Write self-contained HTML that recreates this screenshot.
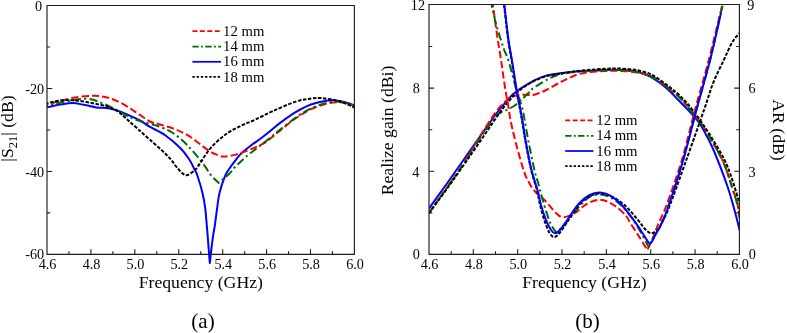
<!DOCTYPE html>
<html lang="en">
<head>
<meta charset="utf-8">
<title>S21, realized gain and AR versus frequency</title>
<style>
html,body{margin:0;padding:0;background:#fff;}
body{width:787px;height:333px;overflow:hidden;font-family:"Liberation Serif","Times New Roman",Times,serif;}
svg{display:block;}
</style>
</head>
<body>
<svg width="787" height="333" viewBox="0 0 787 333">
<rect width="787" height="333" fill="#ffffff"/>
<defs>
<clipPath id="cl"><rect x="47.0" y="5.0" width="307.4" height="258.9"/></clipPath>
<clipPath id="cr"><rect x="429.0" y="4.0" width="310.9" height="250.8"/></clipPath>
</defs>
<g fill="none" stroke-width="2.00" stroke-linejoin="round" clip-path="url(#cl)">
<path stroke="#0000ff" stroke-dashoffset="0.0" d="M47.0 107.2C49.2 106.8 55.8 105.3 60.0 104.6C64.2 103.9 68.5 103.0 72.5 103.0C76.5 103.0 80.0 104.1 84.0 104.8C88.0 105.5 92.4 106.8 96.4 107.4C100.4 108.0 104.5 107.7 108.2 108.3C111.9 108.9 115.3 109.9 118.4 110.9C121.5 111.9 123.4 112.9 127.0 114.5C130.6 116.1 136.2 118.4 140.0 120.5C143.8 122.6 145.8 124.5 150.0 126.9C154.2 129.3 160.1 131.6 165.2 135.2C170.3 138.8 176.4 144.1 180.5 148.2C184.6 152.3 187.3 156.6 189.6 160.0C191.9 163.4 192.9 166.3 194.2 168.8C195.5 171.3 195.9 171.1 197.3 175.2C198.7 179.3 201.3 187.9 202.6 193.5C203.9 199.1 204.5 201.9 205.3 208.8C206.1 215.7 206.8 226.0 207.6 235.0C208.3 244.0 209.4 258.3 209.8 263.0C210.1 260.7 210.8 253.7 211.4 249.0C212.0 244.3 212.6 239.0 213.2 235.0C213.8 231.0 214.3 229.2 214.9 225.0C215.5 220.8 216.2 215.2 216.9 210.0C217.7 204.8 218.1 199.0 219.4 193.5C220.7 188.0 223.0 180.9 224.7 176.8C226.3 172.7 227.5 171.5 229.3 168.8C231.1 166.1 233.5 162.9 235.4 160.4C237.3 157.9 238.4 156.1 241.0 153.6C243.6 151.1 247.8 147.9 251.2 145.3C254.6 142.7 258.3 140.3 261.4 138.0C264.5 135.7 266.8 133.9 270.0 131.3C273.2 128.7 276.2 125.8 280.5 122.6C284.8 119.4 290.6 115.1 295.7 112.1C300.8 109.1 305.9 106.4 311.0 104.5C316.1 102.6 322.1 101.4 326.2 100.7C330.3 100.0 332.3 100.2 335.4 100.4C338.4 100.6 341.3 101.2 344.5 102.0C347.7 102.8 352.9 104.9 354.6 105.5"/>
<path stroke="#ff0000" stroke-dasharray="7.2 3.1" stroke-dashoffset="5.7" d="M47.0 104.4C49.2 103.8 55.3 102.2 60.0 101.0C64.7 99.8 69.4 98.4 75.0 97.5C80.6 96.6 88.4 95.8 93.4 95.7C98.4 95.6 101.2 96.2 105.0 97.0C108.8 97.8 112.2 98.9 116.0 100.6C119.8 102.3 124.2 104.7 128.0 107.0C131.8 109.3 135.3 111.9 139.0 114.3C142.7 116.7 146.7 119.8 150.0 121.5C153.3 123.2 155.2 123.0 159.0 124.2C162.8 125.4 169.1 127.1 172.9 128.4C176.7 129.8 179.2 130.9 182.0 132.3C184.8 133.7 187.0 134.6 190.0 136.6C193.0 138.6 196.8 141.8 200.2 144.3C203.6 146.8 207.3 149.8 210.4 151.7C213.5 153.6 216.6 154.8 219.0 155.6C221.4 156.4 221.9 156.7 224.7 156.5C227.5 156.3 232.3 155.5 235.9 154.6C239.5 153.7 242.7 152.3 246.1 151.0C249.5 149.7 252.9 148.5 256.3 146.9C259.7 145.3 263.0 144.0 266.5 141.7C270.0 139.3 272.5 136.7 277.4 132.8C282.3 128.9 290.1 122.2 295.7 118.3C301.3 114.4 305.9 111.6 311.0 109.2C316.1 106.8 321.6 104.9 326.2 103.7C330.8 102.5 334.8 102.2 338.4 102.2C342.0 102.2 344.9 103.0 347.6 103.6C350.3 104.2 353.4 105.6 354.6 106.0"/>
<path stroke="#006a00" stroke-dasharray="8.2 3.2 2.2 3.2" stroke-dashoffset="7.2" d="M47.0 105.6C50.9 104.8 63.5 101.7 70.5 100.6C77.5 99.5 82.5 98.1 88.8 99.0C95.1 99.9 101.5 102.8 108.6 106.0C115.7 109.2 124.6 115.0 131.5 118.0C138.4 121.0 145.8 122.5 150.0 123.8C154.2 125.1 153.2 124.2 157.0 125.7C160.8 127.2 167.7 129.6 172.9 133.0C178.1 136.4 183.0 140.8 188.1 146.0C193.2 151.2 199.6 159.3 203.4 164.2C207.2 169.1 208.5 172.1 211.0 175.2C213.5 178.3 217.3 181.6 218.6 182.9C220.4 181.4 226.5 176.4 229.3 173.7C232.1 171.0 233.4 168.6 235.4 166.5C237.4 164.4 239.2 163.0 241.5 161.0C243.8 159.0 244.2 158.1 249.0 154.3C253.8 150.5 265.3 141.8 270.0 138.0C274.7 134.2 273.1 135.1 277.4 131.7C281.7 128.3 290.1 121.5 295.7 117.6C301.3 113.7 305.9 110.9 311.0 108.5C316.1 106.1 321.6 104.2 326.2 103.0C330.8 101.8 334.8 101.6 338.4 101.6C342.0 101.6 344.9 102.4 347.6 103.1C350.3 103.8 353.4 105.3 354.6 105.8"/>
<path stroke="#000000" stroke-dasharray="3.55 1.55" stroke-dashoffset="1.9" d="M47.0 103.2C49.5 102.7 57.2 100.6 62.3 100.2C67.4 99.8 72.5 100.2 77.6 100.7C82.7 101.2 87.8 102.3 92.9 103.3C98.0 104.3 104.0 105.4 108.2 106.8C112.5 108.2 115.3 109.8 118.4 111.9C121.5 114.0 123.8 116.5 127.0 119.3C130.2 122.1 133.8 125.4 137.6 128.8C141.4 132.2 145.4 135.7 150.0 139.8C154.6 143.9 161.6 150.1 165.2 153.5C168.8 156.9 169.3 157.6 171.3 160.0C173.3 162.4 175.0 165.5 177.4 168.0C179.8 170.5 183.0 174.8 185.8 175.2C188.6 175.6 192.3 172.0 194.2 170.7C196.1 169.4 196.2 168.8 197.3 167.3C198.4 165.8 198.7 165.1 201.0 161.8C203.3 158.5 206.8 152.2 211.0 147.6C215.2 143.0 221.1 137.7 226.2 134.0C231.3 130.3 236.7 127.9 241.5 125.5C246.3 123.1 250.0 122.1 255.2 119.7C260.4 117.3 266.1 114.1 272.9 111.1C279.6 108.1 289.3 103.7 295.7 101.6C302.1 99.5 306.7 99.2 311.0 98.6C315.3 98.0 317.5 97.8 321.6 98.1C325.7 98.4 331.5 99.4 335.4 100.3C339.3 101.2 341.8 102.2 345.0 103.4C348.2 104.6 353.0 106.9 354.6 107.6"/>
</g>
<g fill="none" stroke-width="2.00" stroke-linejoin="round" clip-path="url(#cr)">
<path stroke="#0000ff" stroke-dashoffset="0.0" d="M428.9 208.6C431.7 204.7 440.7 192.3 445.9 185.0C451.1 177.7 455.9 170.9 460.0 165.0C464.1 159.1 466.9 155.0 470.8 149.5C474.7 144.0 479.2 137.7 483.4 131.8C487.6 125.9 492.1 119.2 496.0 114.0C499.9 108.8 503.5 104.5 506.8 100.8C510.1 97.1 511.4 95.1 515.9 91.8C520.4 88.5 529.0 83.4 534.0 80.7C539.0 78.0 541.9 76.8 546.2 75.6C550.5 74.4 554.9 74.0 560.0 73.3C565.1 72.6 571.6 71.9 576.7 71.5C581.8 71.1 585.8 71.1 590.5 70.8C595.2 70.5 600.4 70.1 605.0 69.9C609.6 69.7 613.8 69.6 618.0 69.7C622.2 69.8 626.3 70.0 630.0 70.5C633.7 71.0 636.6 71.6 640.0 72.6C643.4 73.6 646.8 74.7 650.2 76.5C653.6 78.3 657.0 80.7 660.4 83.3C663.8 85.9 667.7 89.3 670.6 92.0C673.5 94.7 674.8 96.5 677.8 99.5C680.8 102.5 685.5 107.2 688.4 110.3C691.3 113.3 692.9 115.3 695.0 117.8C697.1 120.3 697.9 120.1 701.0 125.5C704.1 130.9 709.2 140.1 713.5 150.0C717.8 159.9 723.4 174.7 727.0 185.0C730.6 195.3 732.9 204.5 735.0 212.0C737.1 219.5 738.8 227.0 739.6 230.0"/>
<path stroke="#ff0000" stroke-dasharray="7.2 3.1" stroke-dashoffset="0.0" d="M428.9 213.2C431.9 208.9 441.5 195.4 447.0 187.5C452.5 179.6 457.8 172.4 462.0 166.0C466.2 159.6 468.9 154.9 472.5 149.0C476.1 143.1 479.5 137.0 483.4 130.8C487.3 124.6 492.4 116.6 496.0 111.8C499.6 107.0 502.3 104.3 505.0 101.8C507.7 99.3 509.7 97.9 512.0 96.8C514.3 95.7 516.7 95.3 519.0 95.0C521.3 94.7 523.5 94.8 526.0 94.8C528.5 94.8 530.6 95.6 534.0 94.8C537.4 94.0 541.6 92.2 546.2 90.0C550.8 87.8 556.4 84.2 561.5 81.7C566.6 79.2 571.9 76.4 576.7 74.8C581.5 73.2 585.8 72.6 590.5 72.0C595.2 71.4 600.4 71.2 605.0 71.0C609.6 70.8 612.8 70.6 618.0 70.8C623.2 71.0 630.7 71.4 636.0 72.3C641.3 73.2 645.9 74.4 650.0 76.0C654.1 77.6 657.0 79.5 660.4 81.8C663.8 84.1 667.3 87.3 670.6 90.0C673.9 92.7 676.8 94.8 680.0 98.0C683.2 101.2 686.0 104.5 690.0 109.5C694.0 114.5 698.6 119.6 704.0 128.0C709.4 136.4 717.6 150.2 722.3 160.0C727.0 169.8 729.5 179.5 732.0 187.0C734.5 194.5 736.3 199.9 737.6 205.0C738.9 210.1 739.3 215.5 739.6 217.6"/>
<path stroke="#006a00" stroke-dasharray="8.2 3.2 2.2 3.2" stroke-dashoffset="0.0" d="M428.9 213.0C431.9 208.8 441.5 195.3 447.0 187.5C452.5 179.7 457.8 172.2 462.0 166.0C466.2 159.8 468.8 155.7 472.5 150.0C476.2 144.3 480.3 137.7 484.5 131.8C488.7 125.9 494.4 118.0 497.8 114.5C501.2 111.0 502.3 112.2 505.0 110.8C507.7 109.4 511.3 107.8 514.0 106.0C516.7 104.2 518.6 102.2 521.3 99.8C524.0 97.4 527.9 93.5 530.0 91.5C532.1 89.5 530.9 89.7 534.0 87.6C537.1 85.5 544.2 81.1 548.5 78.9C552.8 76.7 555.3 75.6 560.0 74.4C564.7 73.2 571.6 72.4 576.7 71.8C581.8 71.2 585.8 71.2 590.5 70.9C595.2 70.6 600.4 70.4 605.0 70.2C609.6 70.0 612.8 69.7 618.0 70.0C623.2 70.3 630.7 70.8 636.0 71.8C641.3 72.8 645.9 74.3 650.0 76.0C654.1 77.7 657.0 79.5 660.4 81.8C663.8 84.1 667.3 87.3 670.6 90.0C673.9 92.7 676.8 94.8 680.0 98.0C683.2 101.2 686.0 104.5 690.0 109.5C694.0 114.5 698.6 119.6 704.0 128.0C709.4 136.4 717.6 150.2 722.3 160.0C727.0 169.8 729.5 179.5 732.0 187.0C734.5 194.5 736.3 199.9 737.6 205.0C738.9 210.1 739.3 215.5 739.6 217.6"/>
<path stroke="#000000" stroke-dasharray="3.55 1.55" stroke-dashoffset="0.0" d="M428.9 213.2C432.0 209.0 441.8 195.9 447.5 188.0C453.2 180.1 458.5 172.4 463.0 166.0C467.5 159.6 470.5 155.3 474.4 149.6C478.3 143.9 482.5 137.8 486.5 132.0C490.5 126.2 494.8 119.6 498.5 114.5C502.2 109.4 505.3 105.2 508.5 101.5C511.7 97.8 513.6 95.2 517.5 92.0C521.4 88.8 527.1 84.7 532.0 82.0C536.9 79.3 542.0 77.4 547.0 76.0C552.0 74.6 557.0 74.2 562.0 73.4C567.0 72.6 572.2 71.6 577.0 71.0C581.8 70.4 585.8 70.2 590.5 69.8C595.2 69.4 600.4 69.0 605.0 68.8C609.6 68.6 613.5 68.4 618.0 68.5C622.5 68.6 628.3 69.1 632.0 69.5C635.7 69.9 637.0 70.0 640.0 70.8C643.0 71.5 646.8 72.4 650.2 74.0C653.6 75.6 657.0 78.0 660.4 80.3C663.8 82.6 667.3 85.3 670.6 87.9C673.9 90.5 676.3 92.1 680.0 95.8C683.7 99.5 687.8 103.8 692.6 110.0C697.4 116.2 703.3 124.6 708.6 132.9C713.9 141.2 720.4 151.8 724.5 160.0C728.6 168.2 730.5 174.7 733.0 182.0C735.5 189.3 738.5 200.3 739.6 204.0"/>
<path stroke="#ff0000" stroke-dasharray="7.2 3.1" stroke-dashoffset="0.0" d="M492.2 0.0C493.1 6.7 496.4 30.8 497.8 40.0C499.2 49.2 499.0 46.6 500.3 55.0C501.6 63.4 504.2 82.7 505.5 90.6C506.8 98.5 507.0 97.7 507.8 102.6C508.6 107.5 509.2 113.4 510.5 120.0C511.8 126.6 513.4 133.6 515.6 142.0C517.8 150.4 521.5 163.8 523.7 170.5C525.9 177.2 527.1 179.0 529.0 182.5C530.9 186.0 532.3 188.5 535.0 191.5C537.7 194.5 541.5 197.0 545.0 200.5C548.5 204.0 552.6 209.9 555.7 212.7C558.8 215.5 560.1 217.3 563.4 217.3C566.7 217.3 571.7 214.9 575.5 212.7C579.3 210.5 582.1 206.5 586.2 204.3C590.3 202.1 595.4 199.6 600.0 199.7C604.6 199.8 609.4 202.3 613.7 205.0C618.0 207.7 623.1 212.6 625.9 215.7C628.7 218.8 628.1 219.6 630.5 223.3C632.9 227.0 637.2 233.6 640.0 238.0C642.8 242.4 646.1 248.0 647.3 250.0C648.1 248.3 650.2 244.2 652.0 240.0C653.8 235.8 655.6 230.6 658.0 224.8C660.4 219.0 662.6 215.8 666.6 205.0C670.6 194.2 677.2 175.8 681.9 160.0C686.6 144.2 690.5 126.7 695.0 110.0C699.5 93.3 704.2 77.5 708.8 60.0C713.3 42.5 719.8 15.0 722.3 5.0C724.8 -5.0 723.4 0.8 723.6 0.0"/>
<path stroke="#006a00" stroke-dasharray="8.2 3.2 2.2 3.2" stroke-dashoffset="0.0" d="M490.0 0.0C490.2 0.8 490.5 0.7 491.5 4.5C492.5 8.3 494.2 17.0 495.8 22.9C497.4 28.8 499.5 35.5 500.9 40.0C502.3 44.5 503.0 46.7 504.2 50.0C505.4 53.3 506.8 55.3 508.3 60.0C509.8 64.7 512.0 73.3 513.3 78.0C514.6 82.7 514.5 82.9 516.0 88.0C517.5 93.1 520.9 103.3 522.3 108.6C523.7 113.9 523.6 114.8 524.6 120.0C525.6 125.2 526.6 131.7 528.2 140.0C529.8 148.3 532.8 162.9 534.4 170.0C536.0 177.1 536.8 178.1 538.1 182.7C539.4 187.3 540.3 191.6 542.0 197.4C543.7 203.2 546.3 212.2 548.1 217.3C549.9 222.4 551.6 225.5 553.0 228.0C554.4 230.5 555.9 231.7 556.5 232.4C557.6 231.4 560.9 228.6 563.0 226.4C565.1 224.2 566.3 222.7 569.0 219.4C571.7 216.1 576.0 210.1 579.4 206.4C582.8 202.7 586.2 199.0 589.6 197.0C593.0 195.0 596.5 194.3 600.0 194.4C603.5 194.5 607.1 195.7 610.6 197.5C614.1 199.3 617.2 201.3 621.3 205.5C625.4 209.7 630.4 215.6 635.0 222.5C639.6 229.4 646.5 242.9 648.8 247.0C649.7 245.3 652.0 240.7 654.0 237.0C656.0 233.3 658.7 229.7 661.0 224.8C663.3 219.9 664.3 218.3 668.0 207.5C671.7 196.7 678.5 176.2 683.2 160.0C687.9 143.8 691.9 126.7 696.4 110.0C700.9 93.3 705.7 77.5 710.1 60.0C714.5 42.5 720.4 15.0 722.7 5.0C725.0 -5.0 723.8 0.8 724.0 0.0"/>
<path stroke="#000000" stroke-dasharray="3.55 1.55" stroke-dashoffset="0.0" d="M503.5 0.0C504.3 6.7 506.8 30.0 508.2 40.0C509.6 50.0 510.2 51.4 511.6 60.0C513.0 68.6 515.3 84.0 516.6 91.5C517.9 99.0 518.3 100.2 519.2 105.0C520.1 109.8 521.0 114.2 522.0 120.0C523.0 125.8 523.7 131.7 525.2 140.0C526.7 148.3 529.2 161.7 531.2 170.0C533.2 178.3 535.5 184.2 537.0 190.0C538.5 195.8 538.8 199.8 540.1 205.0C541.4 210.2 543.0 216.3 544.6 221.0C546.2 225.7 548.0 230.3 549.6 233.0C551.2 235.7 552.6 237.0 554.2 237.0C555.9 237.0 557.3 235.6 559.5 233.0C561.7 230.4 564.2 226.2 567.5 221.5C570.8 216.8 575.3 209.2 579.0 205.0C582.7 200.8 586.0 198.1 589.5 196.2C593.0 194.3 596.5 193.5 600.0 193.5C603.5 193.5 606.5 194.1 610.6 196.0C614.7 197.9 619.8 201.0 624.4 205.0C629.0 209.0 634.7 216.2 638.1 220.2C641.5 224.2 642.9 226.8 645.0 229.0C647.1 231.2 648.8 233.1 651.0 233.2C653.2 233.3 656.0 231.6 658.0 229.4C660.0 227.2 661.2 223.7 663.0 220.0C664.8 216.3 665.1 217.5 669.0 207.5C672.9 197.5 680.5 176.2 686.3 160.0C692.1 143.8 699.5 122.8 704.0 110.0C708.5 97.2 709.9 91.2 713.2 82.9C716.5 74.6 720.8 66.4 723.8 60.0C726.8 53.6 729.0 48.3 731.0 44.5C733.0 40.7 734.5 38.9 736.0 37.0C737.5 35.1 739.2 33.7 739.8 33.0"/>
<path stroke="#0000ff" stroke-dashoffset="0.0" d="M503.8 0.0C504.6 6.7 507.1 30.0 508.5 40.0C509.9 50.0 510.5 51.4 511.9 60.0C513.3 68.6 515.6 84.0 516.9 91.5C518.2 99.0 518.6 100.2 519.5 105.0C520.4 109.8 521.3 114.2 522.3 120.0C523.3 125.8 524.0 131.7 525.5 140.0C527.0 148.3 529.5 161.7 531.5 170.0C533.5 178.3 535.9 184.2 537.5 190.0C539.1 195.8 539.6 200.0 541.0 205.0C542.4 210.0 544.3 215.8 546.0 220.0C547.7 224.2 549.5 227.8 551.0 230.0C552.5 232.2 553.5 233.2 555.0 233.2C556.5 233.2 558.0 232.2 560.0 230.0C562.0 227.8 564.1 224.3 567.2 220.0C570.3 215.7 574.9 208.1 578.6 204.0C582.3 199.9 585.7 197.1 589.3 195.2C592.9 193.3 596.5 192.5 600.0 192.6C603.5 192.7 607.1 193.9 610.6 195.9C614.1 197.9 617.2 200.2 621.3 204.5C625.4 208.8 631.1 216.5 635.0 221.8C638.9 227.1 642.3 232.9 644.5 236.2C646.7 239.5 647.0 240.6 648.0 241.8C649.0 243.0 649.4 243.8 650.2 243.6C651.0 243.4 651.8 242.0 652.6 240.6C653.4 239.2 653.8 237.6 655.2 235.0C656.6 232.4 658.9 229.4 661.0 224.8C663.1 220.2 664.3 218.3 668.0 207.5C671.7 196.7 678.5 176.2 683.2 160.0C687.9 143.8 691.9 126.7 696.4 110.0C700.9 93.3 706.4 74.3 710.1 60.0C713.8 45.7 716.7 31.9 718.5 24.0C720.3 16.1 720.6 14.7 721.0 12.8"/>
</g>
<g fill="none" stroke="#1e1e1e" stroke-width="1.15" stroke-linecap="square">
<path d="M47.0 5.5 V254.4 H354.4 V5.5 Z"/>
<path d="M429.0 4.5 V254.4 H739.4 V4.5 Z"/>
</g>
<g fill="none" stroke="#1e1e1e" stroke-width="1.1">
<path d="M68.96 254.4v-3.2M90.91 254.4v-5.2M112.87 254.4v-3.2M134.83 254.4v-5.2M156.79 254.4v-3.2M178.74 254.4v-5.2M200.70 254.4v-3.2M222.66 254.4v-5.2M244.61 254.4v-3.2M266.57 254.4v-5.2M288.53 254.4v-3.2M310.49 254.4v-5.2M332.44 254.4v-3.2M47.0 46.98h3.2M47.0 88.47h5.2M47.0 129.95h3.2M47.0 171.43h5.2M47.0 212.92h3.2M451.17 254.4v-3.2M473.34 254.4v-5.2M495.51 254.4v-3.2M517.69 254.4v-5.2M539.86 254.4v-3.2M562.03 254.4v-5.2M584.20 254.4v-3.2M606.37 254.4v-5.2M628.54 254.4v-3.2M650.71 254.4v-5.2M672.89 254.4v-3.2M695.06 254.4v-5.2M717.23 254.4v-3.2M429.0 46.54h3.2M739.4 46.54h-3.2M429.0 88.13h5.2M739.4 88.13h-5.2M429.0 129.73h3.2M739.4 129.73h-3.2M429.0 171.32h5.2M739.4 171.32h-5.2M429.0 212.91h3.2M739.4 212.91h-3.2"/>
</g>
<g font-family="'Liberation Serif', 'Times New Roman', Times, serif" fill="#000">
<g fill="none" stroke-width="1.75">
<path stroke="#ff0000" stroke-dasharray="5 2.45" d="M192.4 31.2H221.0"/>
<path stroke="#006a00" stroke-dasharray="6.3 2.4 1.8 2.4" d="M192.4 46.5H221.0"/>
<path stroke="#0000ff" d="M192.4 61.8H221.0"/>
<path stroke="#000000" stroke-dasharray="2.4 1.8" d="M192.4 76.9H221.0"/>
</g>
<g font-size="14.7">
<text x="223.1" y="35.8">12 mm</text>
<text x="223.1" y="51.1">14 mm</text>
<text x="223.1" y="66.4">16 mm</text>
<text x="223.1" y="81.5">18 mm</text>
</g>
<g fill="none" stroke-width="1.75">
<path stroke="#ff0000" stroke-dasharray="5 2.45" d="M565.2 120.4H593.4"/>
<path stroke="#006a00" stroke-dasharray="6.3 2.4 1.8 2.4" d="M565.2 135.8H593.4"/>
<path stroke="#0000ff" d="M565.2 151.0H593.4"/>
<path stroke="#000000" stroke-dasharray="2.4 1.8" d="M565.2 166.1H593.4"/>
</g>
<g font-size="14.7">
<text x="596.3" y="125.0">12 mm</text>
<text x="596.3" y="140.4">14 mm</text>
<text x="596.3" y="155.6">16 mm</text>
<text x="596.3" y="170.7">18 mm</text>
</g>
<g font-size="14.2">
<text x="47.6" y="269.4" text-anchor="middle">4.6</text>
<text x="429.6" y="269.4" text-anchor="middle">4.6</text>
<text x="91.5" y="269.4" text-anchor="middle">4.8</text>
<text x="473.9" y="269.4" text-anchor="middle">4.8</text>
<text x="135.4" y="269.4" text-anchor="middle">5.0</text>
<text x="518.3" y="269.4" text-anchor="middle">5.0</text>
<text x="179.3" y="269.4" text-anchor="middle">5.2</text>
<text x="562.6" y="269.4" text-anchor="middle">5.2</text>
<text x="223.3" y="269.4" text-anchor="middle">5.4</text>
<text x="607.0" y="269.4" text-anchor="middle">5.4</text>
<text x="267.2" y="269.4" text-anchor="middle">5.6</text>
<text x="651.3" y="269.4" text-anchor="middle">5.6</text>
<text x="311.1" y="269.4" text-anchor="middle">5.8</text>
<text x="695.7" y="269.4" text-anchor="middle">5.8</text>
<text x="355.0" y="269.4" text-anchor="middle">6.0</text>
<text x="740.0" y="269.4" text-anchor="middle">6.0</text>
<text x="42.1" y="11.0" text-anchor="end">0</text>
<text x="44.1" y="93.8" text-anchor="end">-20</text>
<text x="44.1" y="176.7" text-anchor="end">-40</text>
<text x="44.1" y="259.4" text-anchor="end">-60</text>
<text x="417.9" y="9.9" text-anchor="middle">12</text>
<text x="416.2" y="93.4" text-anchor="middle">8</text>
<text x="415.8" y="176.6" text-anchor="middle">4</text>
<text x="416.2" y="259.4" text-anchor="middle">0</text>
<text x="747.2" y="9.9">9</text>
<text x="748.5" y="93.4">6</text>
<text x="748.5" y="176.6">3</text>
<text x="748.8" y="259.4">0</text>
</g>
<g font-size="17.7" text-anchor="middle">
<text x="200.8" y="288.2">Frequency (GHz)</text>
<text x="584.4" y="288.4">Frequency (GHz)</text>
<text transform="translate(13.2 128.5) rotate(-90)">|S<tspan font-size="12.5" dy="4.2">21</tspan><tspan dy="-4.2">| (dB)</tspan></text>
<text transform="translate(393.0 130.5) rotate(-90)">Realize gain (dBi)</text>
<text transform="translate(772.6 130.0) rotate(90)">AR (dB)</text>
</g>
<g font-size="21.0" text-anchor="middle">
<text x="203.0" y="327.9">(a)</text>
<text x="587.6" y="328.1">(b)</text>
</g>
</g>
</svg>
</body>
</html>
